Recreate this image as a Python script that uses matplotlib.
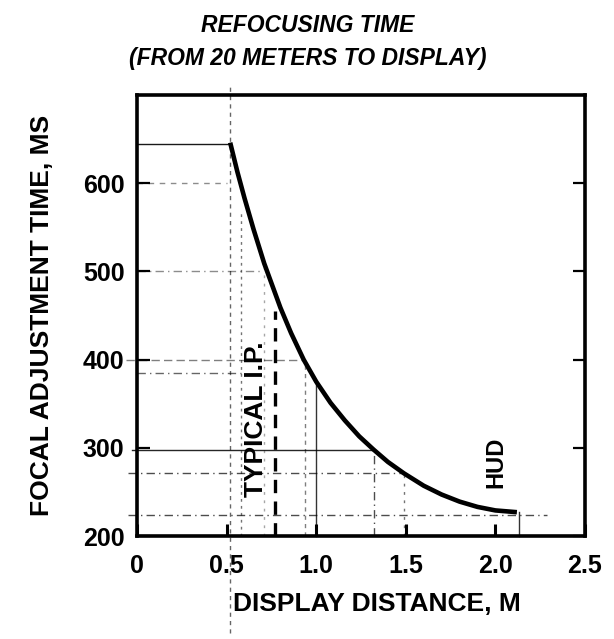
import matplotlib
matplotlib.use("Agg")
import matplotlib.pyplot as plt

# ---- data ----
distance_m = [0.52, 0.56, 0.60, 0.65, 0.71, 0.80, 0.86, 0.93, 1.00, 1.08,
              1.16, 1.24, 1.32, 1.40, 1.49, 1.60, 1.70, 1.80, 1.90, 2.00, 2.12]
focal_time_ms = [646, 613, 583, 548, 509, 459, 430, 400, 375, 351,
                 331, 313, 298, 284, 271, 257, 247, 239, 233, 229, 227]

x_ticks = [0, 0.5, 1.0, 1.5, 2.0, 2.5]
x_tick_labels = ["0", "0.5", "1.0", "1.5", "2.0", "2.5"]
y_ticks = [200, 300, 400, 500, 600]
y_tick_labels = ["200", "300", "400", "500", "600"]

typical_ip_distance = 0.77
typical_ip_top = 455
hud_label_x = 2.0
hud_label_y = 284

# guide lines (level, x_start, x_end, linestyle, alpha)
h_guides = [
    (645, 0.0, 0.52, "-", 0.9),
    (600, 0.0, 0.50, (0, (4, 4)), 0.45),
    (500, 0.0, 0.70, (0, (6, 3, 1, 3)), 0.45),
    (400, -0.06, 0.93, (0, (6, 3)), 0.5),
    (385, 0.0, 0.60, (0, (6, 3, 1, 3)), 0.6),
    (298, -0.03, 1.32, "-", 0.85),
    (271, -0.05, 1.49, (0, (6, 3, 1, 3)), 0.7),
    (224, -0.05, 2.29, (0, (6, 3, 1, 3)), 0.7),
]
# (position, y_start, y_end, linestyle, alpha)
v_guides = [
    (0.52, 90, 712, (0, (3, 3)), 0.6),
    (0.58, 200, 570, (0, (2, 3)), 0.55),
    (0.71, 200, 505, (0, (2, 4)), 0.35),
    (0.94, 200, 400, (0, (3, 3)), 0.5),
    (1.00, 200, 377, "-", 0.8),
    (1.32, 200, 298, (0, (6, 3, 1, 3)), 0.7),
    (1.49, 200, 271, (0, (2, 4)), 0.55),
    (2.13, 200, 227, "-", 0.8),
]

plt.rcParams['font.family'] = ['Liberation Sans', 'DejaVu Sans']

fig = plt.figure(figsize=(6.14, 6.39), dpi=100)
ax = fig.add_axes([137 / 614, (639 - 536) / 639, (585 - 137) / 614, (536 - 95) / 639])

for lvl, x0, x1, ls, a in h_guides:
    ax.plot([x0, x1], [lvl, lvl], color="black", lw=1.0, ls=ls, alpha=a,
            clip_on=False, zorder=2)
for pos, y0, y1, ls, a in v_guides:
    ax.plot([pos, pos], [y0, y1], color="black", lw=1.0, ls=ls, alpha=a,
            clip_on=False, zorder=2)

ax.plot([typical_ip_distance, typical_ip_distance], [200, typical_ip_top],
        color="black", lw=2.4, ls=(0, (4, 2.5)), zorder=3)

ax.plot(distance_m, focal_time_ms, color="black", lw=3.3, zorder=4,
        solid_capstyle="butt", solid_joinstyle="round")

ax.text(0.665, 332, "TYPICAL I.P.", rotation=90, ha="center", va="center",
        fontsize=19, fontweight="heavy", zorder=5)
ax.text(hud_label_x, hud_label_y, "HUD", rotation=90, ha="center", va="center",
        fontsize=17, fontweight="heavy", zorder=5)

ax.set_xlim(0, 2.5)
ax.set_ylim(200, 700)
ax.set_xticks(x_ticks)
ax.set_xticklabels(x_tick_labels)
ax.set_yticks(y_ticks)
ax.set_yticklabels(y_tick_labels)

for s in ax.spines.values():
    s.set_linewidth(2.6)

ax.tick_params(axis="x", direction="in", length=9, width=2.2, pad=13,
               labelsize=18, bottom=True, top=False)
ax.tick_params(axis="y", direction="in", length=9, width=1.6, pad=9,
               labelsize=18, left=True, right=True)
for lab in ax.get_xticklabels() + ax.get_yticklabels():
    lab.set_fontweight("bold")

ax.set_xlabel("DISPLAY DISTANCE, M", fontsize=19, fontweight="bold")
ax.set_ylabel("FOCAL ADJUSTMENT TIME, MS", fontsize=19, fontweight="bold")
ax.xaxis.set_label_coords(0.536, -0.128)
ax.yaxis.set_label_coords(-0.186, 0.5)

fig.text(308 / 614, 1 - 25 / 639, "REFOCUSING TIME", ha="center", va="center",
         fontsize=16.5, fontweight="bold", fontstyle="italic")
fig.text(308 / 614, 1 - 59 / 639, "(FROM 20 METERS TO DISPLAY)", ha="center",
         va="center", fontsize=16.5, fontweight="bold", fontstyle="italic")

fig.savefig("out.png", dpi=100)
